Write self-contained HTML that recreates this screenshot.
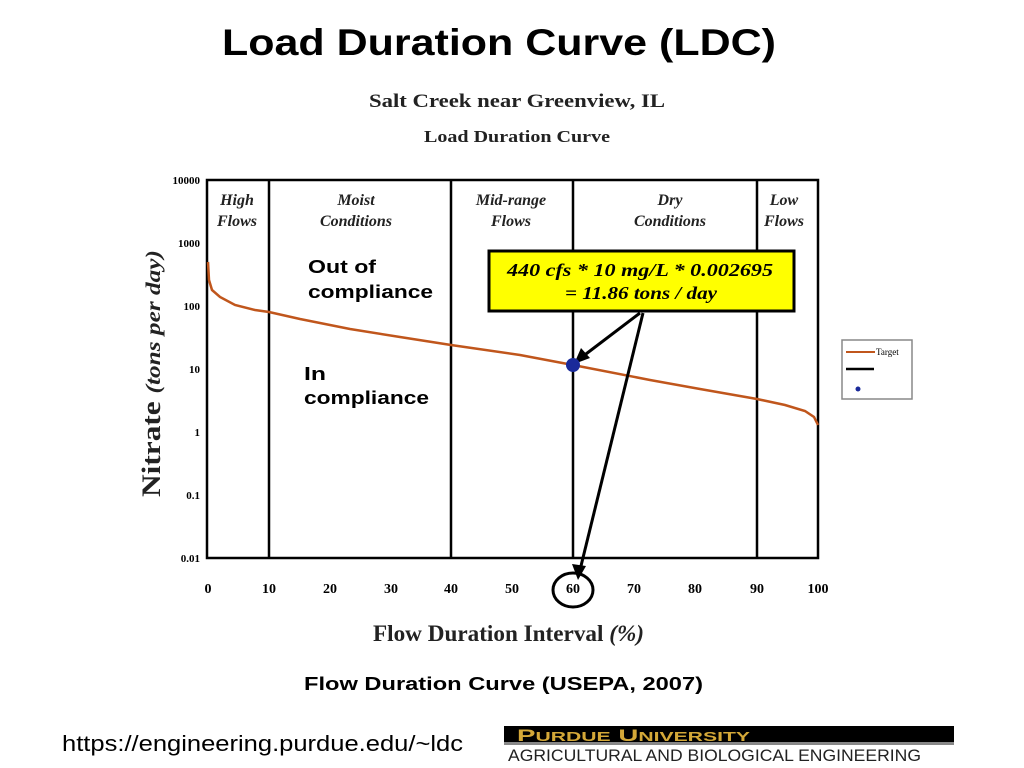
<!DOCTYPE html>
<html><head><meta charset="utf-8"><style>
body{margin:0;width:1024px;height:768px;background:#fff;overflow:hidden;position:relative;font-family:"Liberation Sans",sans-serif}
</style></head><body>
<svg width="1024" height="768" style="position:absolute;left:0;top:0">
<text x="222" y="55" textLength="554" lengthAdjust="spacingAndGlyphs" font-family="Liberation Sans" font-weight="bold" font-size="37">Load Duration Curve (LDC)</text>
<text x="369" y="107" textLength="296" lengthAdjust="spacingAndGlyphs" font-family="Liberation Serif" font-weight="bold" font-size="19" fill="#222">Salt Creek near Greenview, IL</text>
<text x="424" y="142" textLength="186" lengthAdjust="spacingAndGlyphs" font-family="Liberation Serif" font-weight="bold" font-size="17" fill="#222">Load Duration Curve</text>
<g font-family="Liberation Serif" font-weight="bold" font-size="11" text-anchor="end">
<text x="200" y="184">10000</text><text x="200" y="247">1000</text><text x="200" y="310">100</text><text x="200" y="373">10</text><text x="200" y="436">1</text><text x="200" y="499">0.1</text><text x="200" y="562">0.01</text>
</g>
<rect x="207" y="180" width="611" height="378" fill="none" stroke="#000" stroke-width="2.5"/>
<g stroke="#000" stroke-width="2.5"><line x1="269" y1="180" x2="269" y2="558"/><line x1="451" y1="180" x2="451" y2="558"/><line x1="573" y1="180" x2="573" y2="558"/><line x1="757" y1="180" x2="757" y2="558"/></g>
<g font-family="Liberation Serif" font-style="italic" font-weight="bold" font-size="16" text-anchor="middle" fill="#222">
<text x="237" y="205">High</text><text x="237" y="226">Flows</text>
<text x="356" y="205">Moist</text><text x="356" y="226">Conditions</text>
<text x="511" y="205">Mid-range</text><text x="511" y="226">Flows</text>
<text x="670" y="205">Dry</text><text x="670" y="226">Conditions</text>
<text x="784" y="205">Low</text><text x="784" y="226">Flows</text>
</g>
<g font-family="Liberation Serif" font-weight="bold" font-size="14" text-anchor="middle">
<text x="208" y="593">0</text><text x="269" y="593">10</text><text x="330" y="593">20</text><text x="391" y="593">30</text><text x="451" y="593">40</text><text x="512" y="593">50</text><text x="573" y="593">60</text><text x="634" y="593">70</text><text x="695" y="593">80</text><text x="757" y="593">90</text><text x="818" y="593">100</text>
</g>
<ellipse cx="573" cy="590" rx="20" ry="17" fill="none" stroke="#000" stroke-width="3"/>
<text x="373" y="641" textLength="271" lengthAdjust="spacingAndGlyphs" font-family="Liberation Serif" font-weight="bold" font-size="23" fill="#222">Flow Duration Interval <tspan font-style="italic">(%)</tspan></text>
<text transform="translate(160,497) rotate(-90)" textLength="247" lengthAdjust="spacingAndGlyphs" font-family="Liberation Serif" font-weight="bold" font-size="26" fill="#222">Nitrate <tspan font-style="italic" font-size="21">(tons per day)</tspan></text>
<path d="M208,262 L209,280 L212,290 L220,297 L235,305 L255,310 L269,312 L300,319 L350,329 L400,337 L451,345 L520,355 L573,365 L650,380 L700,389 L757,399 L785,405 L805,411 L814,417 L818,425" fill="none" stroke="#c0561c" stroke-width="2.5"/>
<rect x="489" y="251" width="305" height="60" fill="#ffff00" stroke="#000" stroke-width="3"/>
<text x="507" y="276" textLength="266" lengthAdjust="spacingAndGlyphs" font-family="Liberation Serif" font-style="italic" font-weight="bold" font-size="18">440 cfs  *  10 mg/L  *  0.002695</text>
<text x="565" y="299" textLength="152" lengthAdjust="spacingAndGlyphs" font-family="Liberation Serif" font-style="italic" font-weight="bold" font-size="18">= 11.86 tons / day</text>
<g stroke="#000" stroke-width="3"><line x1="640" y1="313" x2="582" y2="357"/><line x1="643" y1="313" x2="580" y2="570"/></g>
<polygon points="574,364 581,348 590,358" fill="#000"/>
<polygon points="578,580 572,564 586,566" fill="#000"/>
<circle cx="573" cy="365" r="7" fill="#1a2a9a"/>
<rect x="842" y="340" width="70" height="59" fill="#fff" stroke="#888" stroke-width="1.5"/>
<line x1="846" y1="352" x2="875" y2="352" stroke="#c0561c" stroke-width="2"/>
<text x="876" y="355" font-family="Liberation Serif" font-size="9">Target</text>
<line x1="846" y1="369" x2="874" y2="369" stroke="#000" stroke-width="2.5"/>
<circle cx="858" cy="389" r="2.5" fill="#1a2a9a"/>
<g font-family="Liberation Sans" font-weight="bold" font-size="18" lengthAdjust="spacingAndGlyphs">
<text x="308" y="273" textLength="68" lengthAdjust="spacingAndGlyphs">Out of</text><text x="308" y="298" textLength="125" lengthAdjust="spacingAndGlyphs">compliance</text>
<text x="304" y="380" textLength="22" lengthAdjust="spacingAndGlyphs">In</text><text x="304" y="404" textLength="125" lengthAdjust="spacingAndGlyphs">compliance</text>
<text x="304" y="690" textLength="399" lengthAdjust="spacingAndGlyphs">Flow Duration Curve (USEPA, 2007)</text>
</g>
<text x="62" y="751" textLength="401" lengthAdjust="spacingAndGlyphs" font-family="Liberation Sans" font-size="22">https://engineering.purdue.edu/~ldc</text>
<rect x="504" y="726" width="450" height="16" fill="#000"/>
<rect x="504" y="742" width="450" height="3" fill="#888"/>
<text x="517" y="741" textLength="233" lengthAdjust="spacingAndGlyphs" font-family="Liberation Sans" font-weight="bold" font-size="17" fill="#d4a838">P<tspan font-size="13">URDUE</tspan> U<tspan font-size="13">NIVERSITY</tspan></text>
<text x="508" y="761" textLength="413" lengthAdjust="spacingAndGlyphs" font-family="Liberation Sans" font-size="17" fill="#222">AGRICULTURAL AND BIOLOGICAL ENGINEERING</text>
</svg>
</body></html>
